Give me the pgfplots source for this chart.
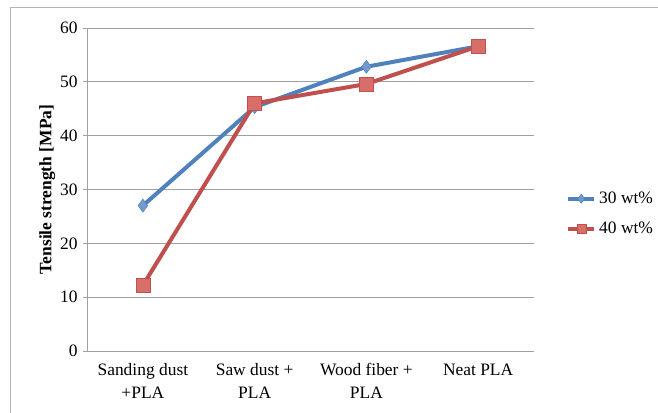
\documentclass[border=0pt]{standalone}
\usepackage{pgfplots}
\pgfplotsset{compat=1.18}
\usepackage{fontspec}
\setmainfont{Liberation Serif}
\definecolor{sblue}{RGB}{79,129,189}
\definecolor{sred}{RGB}{192,80,77}
\definecolor{sredfill}{RGB}{215,110,105}
\definecolor{gridg}{RGB}{160,160,160}
\begin{document}
\begin{tikzpicture}
\path[use as bounding box] (0bp,0bp) rectangle (658bp,413bp);
\draw[gridg!80, line width=0.8bp] (10bp,-10bp) rectangle (670bp,406bp);
\begin{axis}[
  at={(87bp,62bp)}, anchor=south west,
  scale only axis, width=447bp, height=323bp,
  xmin=-0.5, xmax=3.5, ymin=0, ymax=60,
  ytick={0,10,...,60},
  xtick={0,1,2,3},
  xticklabels={{Sanding dust\\+PLA},{Saw dust +\\PLA},{Wood fiber +\\PLA},{Neat PLA}},
  xticklabel style={align=center, font=\fontsize{17.5}{23}\selectfont, yshift=-5bp},
  yticklabel style={font=\fontsize{17.5}{20}\selectfont},
  /pgf/number format/assume math mode=true,
  extra x ticks={-0.5,0.5,1.5,2.5,3.5},
  extra x tick labels={},
  extra x tick style={major tick length=5bp, tick style={gridg}},
  major x tick style={draw=none},
  axis x line*=bottom, axis y line*=left,
  axis line style={gridg, line width=1bp, -},
  ymajorgrids, grid style={gridg, line width=1bp},
  tick style={gridg, line width=1bp},
  y tick label style={xshift=-2bp},
  major tick length=4bp,
  tick align=outside,
  ylabel={\textbf{Tensile strength [MPa]}},
  ylabel style={font=\fontsize{17.5}{20}\selectfont, yshift=-2bp},
  legend style={at={(1.065,0.425)}, anchor=west, draw=none, fill=none,
    font=\fontsize{17.5}{20}\selectfont, row sep=13bp,
    /tikz/every odd column/.append style={column sep=1bp}},
  legend image code/.code={
    \draw[#1, mark=none] plot coordinates {(0bp,0bp) (26bp,0bp)};
    \path[#1, mark size=4.5bp] plot[only marks] coordinates {(13bp,0bp)};
  },
  legend cell align=left,
  clip=false,
]
\addplot[sblue, line width=4bp, mark=diamond*, mark size=6.5bp, mark options={fill=sblue!80, draw=sblue, line width=0.5bp}]
  coordinates {(0,27.0) (1,45.3) (2,52.8) (3,56.6)};
\addlegendentry{30 wt\%}
\addplot[sred, line width=4bp, mark=square*, mark size=7bp, mark options={fill=sredfill, draw=sred, line width=0.5bp}]
  coordinates {(0,12.2) (1,46.0) (2,49.6) (3,56.6)};
\addlegendentry{40 wt\%}
\end{axis}
\end{tikzpicture}
\end{document}
